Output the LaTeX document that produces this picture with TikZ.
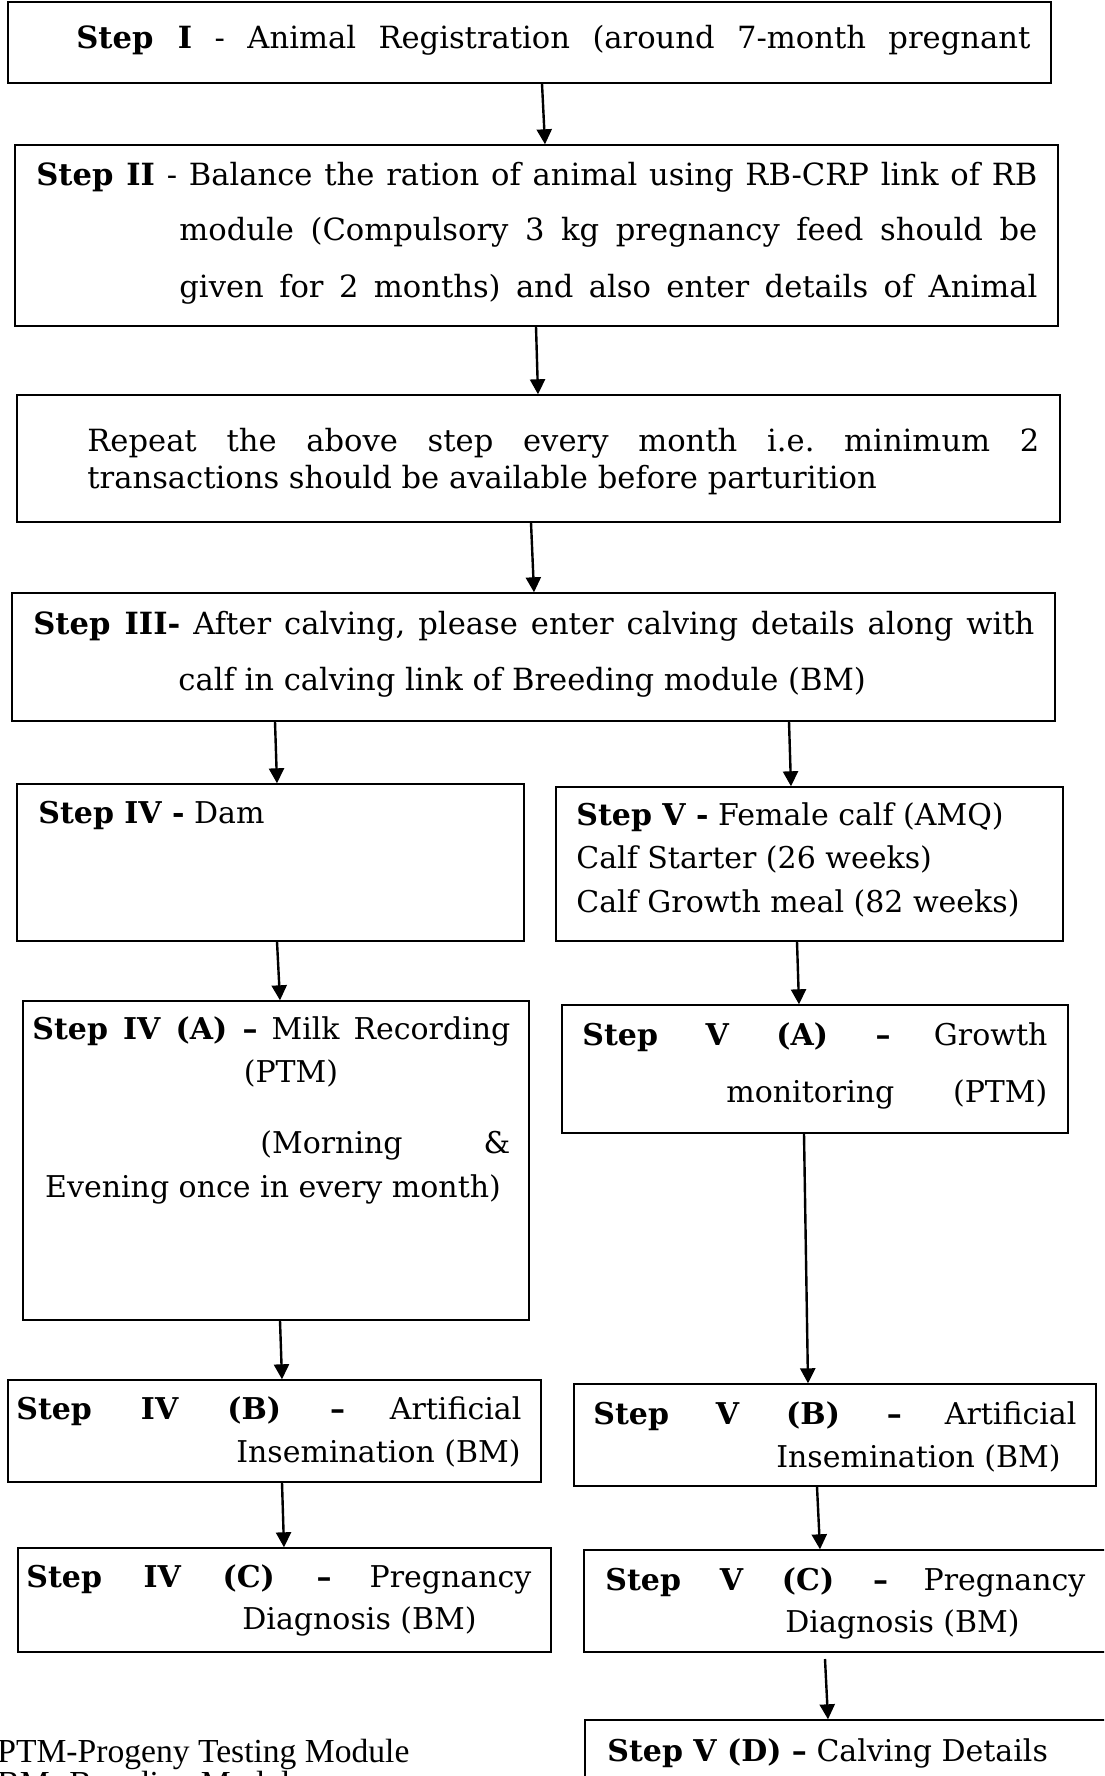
\documentclass[tikz,border=0pt]{standalone}
\usepackage{fontspec}
\setmainfont{DejaVu Serif}
\newfontfamily\notefont{Liberation Serif}
\usetikzlibrary{arrows.meta,fit}
\frenchspacing
\newcommand{\jl}[2]{\makebox[#1][s]{#2}}
\tikzset{
  box/.style={draw, line width=0.7pt, inner sep=0pt},
  txt/.style={anchor=base west, inner sep=0pt, font=\fontsize{15pt}{18pt}\selectfont},
  toptxt/.style={txt, font=\fontsize{15.3pt}{18pt}\selectfont},
  notetxt/.style={anchor=base west, inner sep=0pt, font=\notefont\fontsize{16.8pt}{19pt}\selectfont},
  arr/.style={-{Triangle[length=7.5pt,width=7.5pt]}, line width=1.2pt},
}
\begin{document}
\begin{tikzpicture}[x=0.5pt,y=-0.5pt]
\useasboundingbox (0,0) rectangle (1104,1776);
\clip (0,0) rectangle (1104,1776);
% boxes
\node[box, fit={(8,2) (1051,83)}] (b1) {};
\node[box, fit={(15,145) (1058,326)}] (b2) {};
\node[box, fit={(17,395) (1060,522)}] (b3) {};
\node[box, fit={(12,593) (1055,721)}] (b4) {};
\node[box, fit={(17,784) (524,941)}] (b5) {};
\node[box, fit={(556,787) (1063,941)}] (b6) {};
\node[box, fit={(23,1001) (529,1320)}] (b7) {};
\node[box, fit={(562,1005) (1068,1133)}] (b8) {};
\node[box, fit={(8,1380) (541,1482)}] (b9) {};
\node[box, fit={(574,1384) (1096,1486)}] (b10) {};
\node[box, fit={(18,1548) (551,1652)}] (b11) {};
\node[box, fit={(584,1550) (1120,1652)}] (b12) {};
\node[box, fit={(585,1720) (1120,1810)}] (b13) {};
% texts
\node[toptxt] (t1) at (76,49) {\jl{477pt}{\textbf{Step I} - Animal Registration (around 7-month pregnant}};
\node[toptxt] (t2a) at (36,186) {\jl{500.5pt}{\textbf{Step II} - Balance the ration of animal using RB-CRP link of RB}};
\node[toptxt] (t2b) at (179,241) {\jl{429pt}{module (Compulsory 3 kg pregnancy feed should be}};
\node[toptxt] (t2c) at (179,297) {\jl{429pt}{given for 2 months) and also enter details of Animal}};
\node[toptxt] (t3a) at (87,451) {\jl{476pt}{Repeat the above step every month i.e. minimum 2}};
\node[toptxt] (t3b) at (87,488) {transactions should be available before parturition};
\node[toptxt] (t4a) at (33,634) {\jl{500.5pt}{\textbf{Step III-} After calving, please enter calving details along with}};
\node[toptxt] (t4b) at (178,690) {calf in calving link of Breeding module (BM)};
\node[txt] (t5) at (38,823) {\textbf{Step IV -} Dam};
\node[txt] (t6a) at (576,825) {\textbf{Step V -} Female calf (AMQ)};
\node[txt] (t6b) at (576,868) {Calf Starter (26 weeks)};
\node[txt] (t6c) at (576,912) {Calf Growth meal (82 weeks)};
\node[txt] (t7a) at (32,1039) {\jl{239pt}{\textbf{Step IV (A) –} Milk Recording}};
\node[txt, anchor=base] (t7b) at (291,1082) {(PTM)};
\node[txt] (t7c) at (260,1153) {\jl{125pt}{(Morning \&}};
\node[txt, anchor=base] (t7d) at (273,1197) {Evening once in every month)};
\node[txt] (t8a) at (582,1045) {\jl{232.5pt}{\textbf{Step V (A) –} Growth}};
\node[txt] (t8b) at (726,1102) {\jl{160.5pt}{monitoring (PTM)}};
\node[txt] (t9a) at (16,1419) {\jl{252.5pt}{\textbf{Step IV (B) –} Artificial}};
\node[txt, anchor=base east] (t9b) at (521,1462) {Insemination (BM)};
\node[txt] (t10a) at (593,1424) {\jl{241.5pt}{\textbf{Step V (B) –} Artificial}};
\node[txt, anchor=base east] (t10b) at (1061,1467) {Insemination (BM)};
\node[txt] (t11a) at (26,1587) {\jl{252.5pt}{\textbf{Step IV (C) –} Pregnancy}};
\node[txt] (t11b) at (242,1629) {Diagnosis (BM)};
\node[txt] (t12a) at (605,1590) {\jl{240pt}{\textbf{Step V (C) –} Pregnancy}};
\node[txt] (t12b) at (785,1632) {Diagnosis (BM)};
\node[txt] (t13) at (607,1761) {\textbf{Step V (D) –} Calving Details};
\node[notetxt] (n1) at (-3,1762) {PTM-Progeny Testing Module};
\node[notetxt] (n2) at (-3,1794) {BM- Breeding Module};
% arrows
\draw[arr] (542,0 |- b1.south) -- (545,0 |- b2.north);
\draw[arr] (536,0 |- b2.south) -- (538,0 |- b3.north);
\draw[arr] (531,0 |- b3.south) -- (534,0 |- b4.north);
\draw[arr] (275,0 |- b4.south) -- (277,0 |- b5.north);
\draw[arr] (789,0 |- b4.south) -- (791,0 |- b6.north);
\draw[arr] (277,0 |- b5.south) -- (280,0 |- b7.north);
\draw[arr] (797,0 |- b6.south) -- (799,0 |- b8.north);
\draw[arr] (280,0 |- b7.south) -- (282,0 |- b9.north);
\draw[arr] (804,0 |- b8.south) -- (808,0 |- b10.north);
\draw[arr] (282,0 |- b9.south) -- (284,0 |- b11.north);
\draw[arr] (817,0 |- b10.south) -- (820,0 |- b12.north);
\draw[arr] (825,1659) -- (828,0 |- b13.north);
\end{tikzpicture}
\end{document}
